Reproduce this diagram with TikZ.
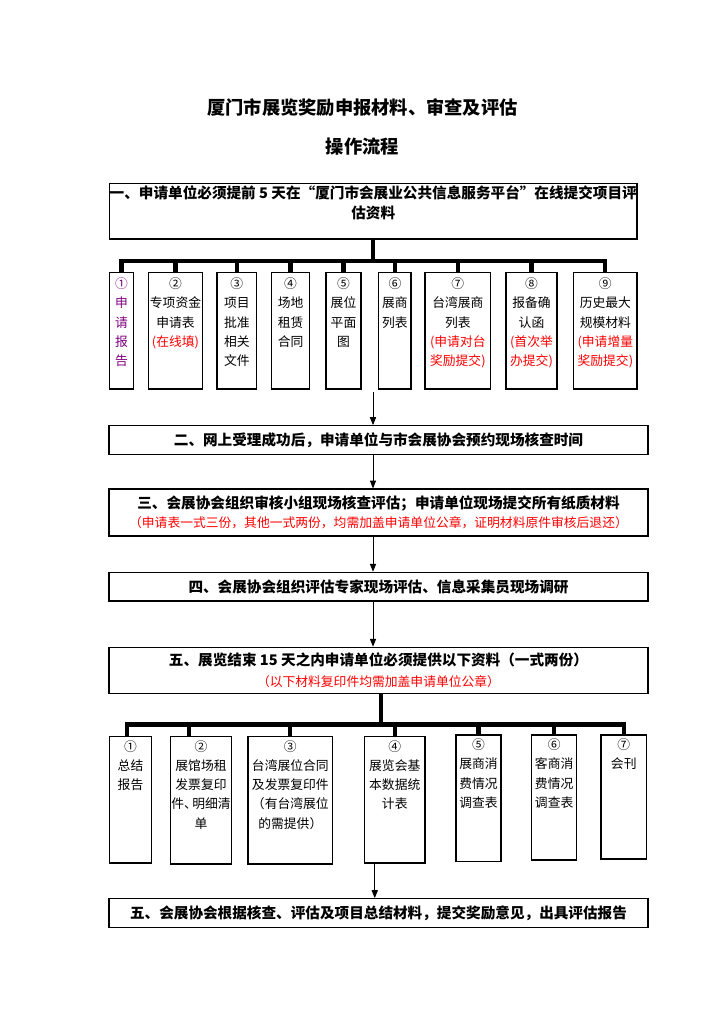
\documentclass[tikz,border=0pt]{standalone}
\usepackage{fontspec}
\setmainfont{Noto Sans CJK SC}
\usetikzlibrary{calc}
\usetikzlibrary{arrows.meta}
\definecolor{notered}{RGB}{255,0,0}
\definecolor{notepurple}{RGB}{128,0,128}
\newlength{\pxu}
\setlength{\pxu}{0.8211pt}
\newcommand{\rednote}[1]{\textcolor{notered}{#1}}

\begin{document}
\begin{tikzpicture}[x=\pxu, y=-\pxu,
    stepbox/.style={draw, line width=0.9pt, inner sep=0pt, minimum width=539\pxu, align=center,
      font=\bfseries\fontsize{12}{15.6}\selectfont},
    itembox/.style={draw, line width=0.9pt, inner sep=0pt},
    itemtext/.style={anchor=north, inner sep=0pt, align=center, font=\fontsize{10.5}{15.8}\selectfont},
    bus/.style={line width=3.5pt},
    busbar/.style={bus, line cap=rect},
    flow/.style={-{Triangle[length=6.5pt,width=5pt]}, line width=0.8pt}]
    \useasboundingbox (0,0) rectangle (725,1027);

    \node[font=\bfseries\fontsize{15}{20}\selectfont] (T1) at (362.5, 107.7) {厦门市展览奖励申报材料、审查及评估};
    \node[font=\bfseries\fontsize{15}{20}\selectfont] (T2) at (362.5, 146.7) {操作流程};

    % step one and its nine items
    \node[stepbox, minimum width=527.5\pxu, minimum height=55.5\pxu] (S1) at (373.25, 211.25) {};
    \node[inner sep=0pt, align=center, font=\bfseries\fontsize{12}{16.4}\selectfont] (S1t) at ($(S1.north)+(0,19.5)$)
      {一、申请单位必须提前 5 天在“厦门市会展业公共信息服务平台”在线提交项目评\\估资料};

    \node[itembox, minimum width=23.8\pxu, minimum height=116.5\pxu] (U1) at (121.4, 330.75) {};
    \node[itembox, minimum width=53.6\pxu, minimum height=116.5\pxu] (U2) at (175.5, 330.75) {};
    \node[itembox, minimum width=39.7\pxu, minimum height=116.5\pxu] (U3) at (236.85, 330.75) {};
    \node[itembox, minimum width=37.9\pxu, minimum height=116.5\pxu] (U4) at (290.55, 330.75) {};
    \node[itembox, minimum width=35\pxu, minimum height=116.5\pxu] (U5) at (343.5, 330.75) {};
    \node[itembox, minimum width=32.2\pxu, minimum height=116.5\pxu] (U6) at (394.9, 330.75) {};
    \node[itembox, minimum width=65.7\pxu, minimum height=116.5\pxu] (U7) at (457.85, 330.75) {};
    \node[itembox, minimum width=51\pxu, minimum height=116.5\pxu] (U8) at (531.5, 330.75) {};
    \node[itembox, minimum width=63.3\pxu, minimum height=116.5\pxu] (U9) at (605.35, 330.75) {};

    \node[itemtext, text=notepurple] (U1t) at ($(U1.north)+(0,5.5)$) {①\\申\\请\\报\\告};
    \node[itemtext] (U2t) at ($(U2.north)+(0,5.5)$) {②\\专项资金\\申请表\\\rednote{(在线填)}};
    \node[itemtext] (U3t) at ($(U3.north)+(0,5.5)$) {③\\项目\\批准\\相关\\文件};
    \node[itemtext] (U4t) at ($(U4.north)+(0,5.5)$) {④\\场地\\租赁\\合同};
    \node[itemtext] (U5t) at ($(U5.north)+(0,5.5)$) {⑤\\展位\\平面\\图};
    \node[itemtext] (U6t) at ($(U6.north)+(0,5.5)$) {⑥\\展商\\列表};
    \node[itemtext] (U7t) at ($(U7.north)+(0,5.5)$) {⑦\\台湾展商\\列表\\\rednote{(申请对台}\\\rednote{奖励提交)}};
    \node[itemtext] (U8t) at ($(U8.north)+(0,5.5)$) {⑧\\报备确\\认函\\\rednote{(首次举}\\\rednote{办提交)}};
    \node[itemtext] (U9t) at ($(U9.north)+(0,5.5)$) {⑨\\历史最大\\规模材料\\\rednote{(申请增量}\\\rednote{奖励提交)}};

    \coordinate (bus1) at (373, 261);
    \draw[bus] (S1.south) -- (S1.south |- bus1);
    \draw[busbar] (U1.north |- bus1) -- (U9.north |- bus1);
    \foreach \n in {1,...,9}
      \draw[bus] (U\n.north |- bus1) -- (U\n.north);

    % steps two to five
    \node[stepbox, minimum height=28.6\pxu] (S2) at (378.5, 440) {二、网上受理成功后，申请单位与市会展协会预约现场核查时间};
    \node[stepbox, minimum height=47\pxu] (S3) at (378.5, 512.5)
      {三、会展协会组织审核小组现场核查评估；申请单位现场提交所有纸质材料\\
       {\mdseries\fontsize{10.5}{15.6}\selectfont\rednote{（申请表一式三份，其他一式两份，均需加盖申请单位公章，证明材料原件审核后退还）}}};
    \node[stepbox, minimum height=28.7\pxu] (S4) at (378.5, 586.65) {四、会展协会组织评估专家现场评估、信息采集员现场调研};
    \node[stepbox, minimum height=46\pxu] (S5) at (378.5, 670.3)
      {五、展览结束 15 天之内申请单位必须提供以下资料（一式两份）\\[1.5pt]
       {\mdseries\fontsize{10.5}{15.6}\selectfont\rednote{（以下材料复印件均需加盖申请单位公章）}}};

    \coordinate (flowx) at (373, 392);
    \draw[flow] (flowx) -- (flowx |- S2.north);
    \draw[flow] (S2.south -| flowx) -- (S3.north -| flowx);
    \draw[flow] (S3.south -| flowx) -- (S4.north -| flowx);
    \draw[flow] (S4.south -| flowx) -- (S5.north -| flowx);

    % materials after the show
    \node[itembox, minimum width=42.4\pxu, minimum height=126.3\pxu] (L1) at (130.5, 799.85) {};
    \node[itembox, minimum width=61.4\pxu, minimum height=127.3\pxu] (L2) at (201, 800.35) {};
    \node[itembox, minimum width=84.7\pxu, minimum height=127.3\pxu] (L3) at (290.35, 800.35) {};
    \node[itembox, minimum width=60.5\pxu, minimum height=126.3\pxu] (L4) at (394.75, 799.85) {};
    \node[itembox, minimum width=45\pxu, minimum height=126.7\pxu] (L5) at (478.5, 798.35) {};
    \node[itembox, minimum width=45.1\pxu, minimum height=125\pxu] (L6) at (554.15, 797.5) {};
    \node[itembox, minimum width=45.5\pxu, minimum height=124\pxu] (L7) at (623.75, 797) {};

    \node[itemtext] (L1t) at ($(L1.north)+(0,4)$) {①\\总结\\报告};
    \node[itemtext] (L2t) at ($(L2.north)+(0,4)$) {②\\展馆场租\\发票复印\\件、\kern-.35em明细清\\单};
    \node[itemtext] (L3t) at ($(L3.north)+(0,4)$) {③\\台湾展位合同\\及发票复印件\\（有台湾展位\\的需提供）};
    \node[itemtext] (L4t) at ($(L4.north)+(0,4)$) {④\\展览会基\\本数据统\\计表};
    \node[itemtext] (L5t) at ($(L5.north)+(0,4)$) {⑤\\展商消\\费情况\\调查表};
    \node[itemtext] (L6t) at ($(L6.north)+(0,4)$) {⑥\\客商消\\费情况\\调查表};
    \node[itemtext] (L7t) at ($(L7.north)+(0,4)$) {⑦\\会刊};

    \coordinate (bus2) at (381, 724.5);
    \draw[bus] (S5.south -| bus2) -- (bus2);
    \coordinate (drop1) at ($(L1.north)+(-3.8,0)$);
    \coordinate (drop2) at ($(L2.north)+(-11.7,0)$);
    \draw[busbar] (drop1 |- bus2) -- (L7.north |- bus2);
    \draw[bus] (drop1 |- bus2) -- (drop1);
    \draw[bus] (drop2 |- bus2) -- (drop2);
    \foreach \n in {3,...,7}
      \draw[bus] (L\n.north |- bus2) -- (L\n.north);

    \node[stepbox, minimum height=29\pxu] (S6) at (378.5, 913.2) {五、会展协会根据核查、评估及项目总结材料，提交奖励意见，出具评估报告};
    \coordinate (L4out) at ($(L4.south)+(-20,0)$);
    \draw[flow] (L4out) -- (L4out |- S6.north);
  \end{tikzpicture}
\end{document}
